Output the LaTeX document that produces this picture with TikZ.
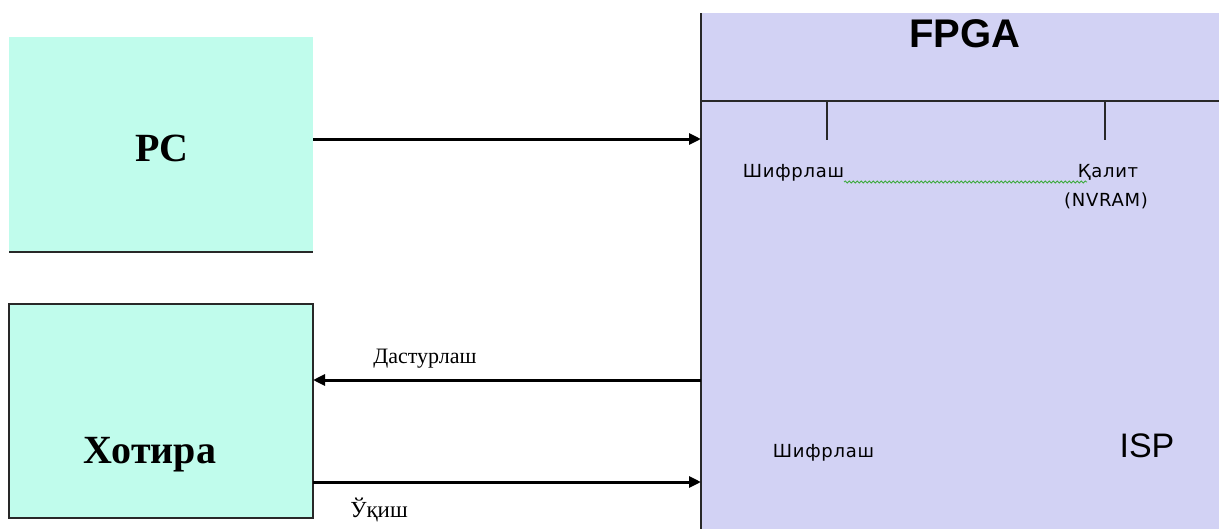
\documentclass[tikz,border=0pt]{standalone}
\usepackage{fontspec}
\setmainfont{Liberation Serif}
\newfontfamily\arialf{Liberation Sans}
\newfontfamily\dejavuf[LetterSpace=4]{DejaVu Sans}
\usetikzlibrary{arrows.meta,decorations.pathmorphing}
\definecolor{aqua}{RGB}{192,252,236}
\definecolor{lav}{RGB}{210,210,244}
\definecolor{edge}{RGB}{40,40,40}
\definecolor{squig}{RGB}{60,170,60}
\begin{document}
\begin{tikzpicture}[x=1pt,y=-1pt,
  box/.style={inner sep=0pt,outer sep=0pt,anchor=north west},
  arr/.style={line width=3pt,draw=black,-{Triangle[length=12pt,width=11pt]}},
  bord/.style={line width=1.8pt,draw=edge},
  tick/.style={line width=1.8pt,draw=edge},
  big/.style={font=\bfseries\fontsize{40}{40}\selectfont,anchor=base,inner sep=0pt},
  small/.style={font=\dejavuf\fontsize{18}{18}\selectfont,anchor=base,inner sep=0pt},
  lbl/.style={font=\fontsize{22}{22}\selectfont,anchor=base,inner sep=0pt}]
\useasboundingbox (0,0) rectangle (1219,528);
\fill[white] (0,0) rectangle (1219,528);
% boxes
\node[box,fill=aqua,minimum width=304pt,minimum height=215pt] (pc) at (9,37) {};
\draw[bord] (pc.south west) -- (pc.south east);
\node[box,fill=aqua,draw=edge,line width=1.8pt,minimum width=304pt,minimum height=214pt] (mem) at (9,304) {};
\node[box,fill=lav,minimum width=530pt,minimum height=530pt] (fpga) at (701,13) {};
\draw[bord] (fpga.north west) -- (fpga.south west);
\coordinate (divL) at (701,101);
\coordinate (divR) at (1230,101);
\draw[bord] (divL) -- (divR);
\coordinate (t1a) at (827,101); \coordinate (t1b) at (827,140);
\coordinate (t2a) at (1105,101); \coordinate (t2b) at (1105,140);
\draw[tick] (t1a) -- (t1b);
\draw[tick] (t2a) -- (t2b);
% texts
\node[big] (pct) at (162,161) {PC};
\node[big] (memt) at (150,463) {Хотира};
\node[font=\arialf\bfseries\fontsize{40}{40}\selectfont,anchor=base,inner sep=0pt] (ft) at (965,47) {FPGA};
\node[small] (sh1) at (793.5,177) {Шифрлаш};
\node[small] (kal) at (1108,177) {Қалит};
\node[small] (nv) at (1106,206) {(NVRAM)};
\node[small] (sh2) at (823.5,457) {Шифрлаш};
\node[font=\arialf\fontsize{34}{34}\selectfont,anchor=base,inner sep=0pt] (isp) at (1147,457) {ISP};
\coordinate (sqA) at (844,182); \coordinate (sqB) at (1087,182);
\draw[squig,line width=0.8pt,decorate,decoration={snake,segment length=4pt,amplitude=1pt}] (sqA) -- (sqB);
% arrows
\draw[arr] (pc.east |- 0,139) -- (fpga.west |- 0,139);
\draw[arr] (fpga.west |- 0,380) -- (mem.east |- 0,380);
\draw[arr] (mem.east |- 0,482) -- (fpga.west |- 0,482);
\node[lbl] (dl) at (425,363) {Дастурлаш};
\node[font=\fontsize{23}{23}\selectfont,anchor=base,inner sep=0pt] (uk) at (379,517) {Ўқиш};
\end{tikzpicture}
\end{document}
